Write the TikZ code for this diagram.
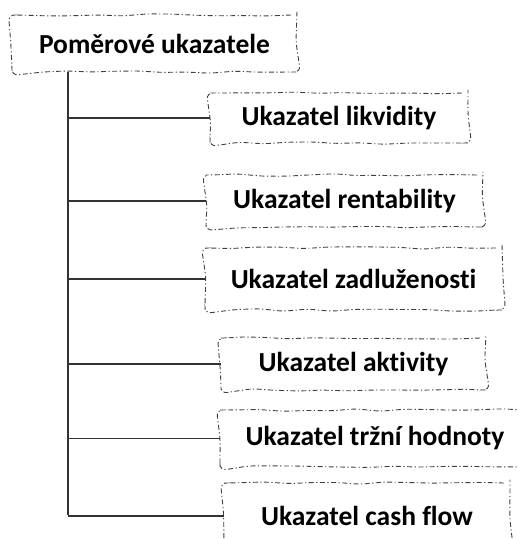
\documentclass[tikz,border=0pt]{standalone}
\usepackage{fontspec}
\setmainfont{Carlito}[Ligatures=NoCommon]
\usepackage{tikz}
\usetikzlibrary{positioning,decorations.pathmorphing}

\tikzset{
  box/.style={draw=black!75, line width=0.9pt,
    dash pattern=on 5pt off 2.5pt on 1.2pt off 2.5pt,
    decorate, decoration={random steps, segment length=24pt, amplitude=1.3pt},
    rounded corners=6pt,
    font=\fontsize{27.5}{32}\selectfont\bfseries, inner sep=0pt},
  link/.style={draw=black!80, line width=1.1pt}
}

\begin{document}
\begin{tikzpicture}[x=1pt,y=-1pt]
  \useasboundingbox (0,0) rectangle (518,539);
  \node[box, minimum width=285, minimum height=57] (root) at (154.5,43.5) {Poměrové ukazatele};

  \node[box, minimum width=258, minimum height=50] (likv) at (339,118) {Ukazatel likvidity};
  \node[box, minimum width=277, minimum height=52] (rent) at (344.5,201) {Ukazatel rentability};
  \node[box, minimum width=297, minimum height=62] (zadl) at (353.5,279) {Ukazatel zadluženosti};
  \node[box, minimum width=265, minimum height=52] (akti) at (353.5,364) {Ukazatel aktivity};
  \node[box, minimum width=310, minimum height=57] (trzn) at (375,438.5) {Ukazatel tržní hodnoty};
  \node[box, minimum width=286, minimum height=66] (cash) at (367,516) {Ukazatel cash flow};

  \coordinate (top) at (68,72);
  \coordinate (bot) at (68,515);

  \draw[link] (top) -- (bot);
  \draw[link]
    (top |- likv.west) -- (likv.west)
    (top |- rent.west) -- (rent.west)
    (top |- zadl.west) -- (zadl.west)
    (top |- akti.west) -- (akti.west)
    (top |- trzn.west) -- (trzn.west)
    (top |- cash.west) -- (cash.west);
\end{tikzpicture}
\end{document}
